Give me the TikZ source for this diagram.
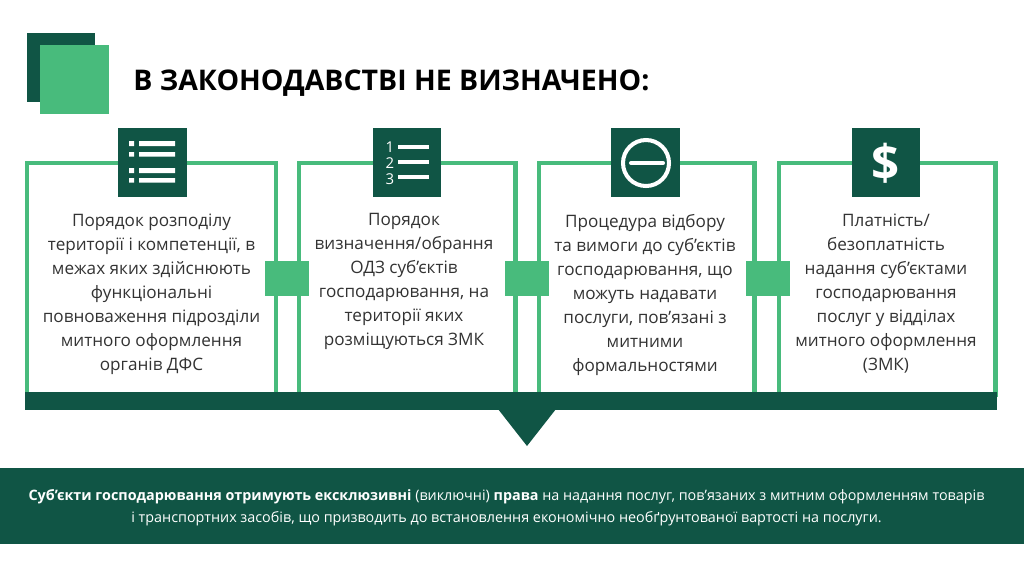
\documentclass[tikz,border=0pt]{standalone}
\usepackage{fontspec}
\setmainfont{Open Sans}
\usepackage{tikz}
\definecolor{darkgreen}{HTML}{105545}
\definecolor{lightgreen}{HTML}{48BB7C}
\tikzset{
	x=0.02cm, y=-0.02cm,
	block/.style={draw=none, fill=#1, inner sep=0pt, outer sep=0pt, anchor=north west},
	frame/.style={draw=lightgreen, line width=2.3pt, inner sep=0pt, anchor=north west},
	iconbox/.style={block=darkgreen, minimum width=1.37cm, minimum height=1.37cm, anchor=center},
	joint/.style={block=lightgreen, minimum width=0.88cm, minimum height=0.7cm, anchor=center},
	iconbar/.style={draw=white, line width=2.3pt},
	iconnum/.style={text=white, inner sep=0pt, font=\fontsize{8.5}{10}\selectfont},
	bodytext/.style={align=center, text=black!80, font=\fontsize{9.75}{13.66}\selectfont, inner sep=0pt},
}
\begin{document}
\begin{tikzpicture}
	\useasboundingbox (0,0) rectangle (1024,576);
	\fill[white] (0,0) rectangle (1024,576);
	% header
	\node[block=darkgreen, minimum width=1.37cm, minimum height=1.38cm] (back) at (27,33) {};
	\node[block=lightgreen, minimum width=1.38cm, minimum height=1.38cm] (front) at (40,45) {};
	\node[anchor=west, inner sep=0pt, font=\fontsize{16.2}{20}\selectfont\bfseries] (title) at (133,83) {В ЗАКОНОДАВСТВІ НЕ ВИЗНАЧЕНО:};
	% frames
	\node[frame, minimum width=4.98cm, minimum height=4.64cm] (f1) at (25,161) {};
	\node[frame, minimum width=4.34cm, minimum height=4.64cm] (f2) at (296.5,161) {};
	\node[frame, minimum width=4.32cm, minimum height=4.64cm] (f3) at (536.5,161) {};
	\node[frame, minimum width=4.34cm, minimum height=4.64cm] (f4) at (776.5,161) {};
	% icons
	\node[iconbox] (i1) at (152.5,162.5) {};
	\node[iconbox] (i2) at (407,162.5) {};
	\node[iconbox] (i3) at (645.5,162.5) {};
	\node[iconbox] (i4) at (886,162.5) {};
	\fill[white] (129,141) rectangle (134,146) (129,152) rectangle (134,156.5) (129,168) rectangle (134,173) (129,178) rectangle (134,182.5);
	\fill[white] (139,141) rectangle (175,146) (139,152) rectangle (175,156.5) (139,168) rectangle (175,173) (139,178) rectangle (175,182.5);
	\node[iconnum] (n1) at (390,147) {1};
	\node[iconnum] (n2) at (390,163) {2};
	\node[iconnum] (n3) at (390,179) {3};
	\draw[iconbar] (398,147) -- (429,147);
	\draw[iconbar] (398,162) -- (429,162);
	\draw[iconbar] (398,177) -- (429,177);
	\draw[iconbar] (646,163) circle (23);
	\draw[iconbar, line cap=round] (631,163) -- (663,163);
	\node[text=white, inner sep=0pt, font=\fontsize{28}{30}\selectfont\bfseries] (dollar) at (886,163) {\$};
	% bar and arrow
	\node[block=darkgreen, minimum width=19.44cm, minimum height=0.35cm] (bar) at (25,392) {};
	\fill[darkgreen] (498,409) -- (556,409) -- (527,446) -- cycle;
	% joints
	\node[joint] (j1) at (287,278.5) {};
	\node[joint] (j2) at (527,278.5) {};
	\node[joint] (j3) at (768,278.5) {};
	% texts
	\node[bodytext] (t1) at (151.5,294) {Порядок розподілу\\території і компетенції, в\\межах яких здійснюють\\функціональні\\повноваження підрозділи\\митного оформлення\\органів ДФС};
	\node[bodytext] (t2) at (404,281) {Порядок\\визначення/обрання\\ОДЗ суб’єктів\\господарювання, на\\території яких\\розміщуються ЗМК};
	\node[bodytext] (t3) at (645,295) {Процедура відбору\\та вимоги до суб’єктів\\господарювання, що\\можуть надавати\\послуги, пов’язані з\\митними\\формальностями};
	\node[bodytext] (t4) at (886,294) {Платність/\\безоплатність\\надання суб’єктами\\господарювання\\послуг у відділах\\митного оформлення\\(ЗМК)};
	% bottom band
	\node[block=darkgreen, minimum width=20.48cm, minimum height=1.52cm] (band) at (0,468) {};
	\node[align=center, text=white, inner sep=0pt, font=\fontsize{8.17}{12.5}\selectfont] (summary) at (506.5,507.5) {\textbf{Суб’єкти господарювання отримують ексклюзивні} (виключні) \textbf{права} на надання послуг, пов’язаних з митним оформленням товарів\\і транспортних засобів, що призводить до встановлення економічно необґрунтованої вартості на послуги.};
\end{tikzpicture}
\end{document}
